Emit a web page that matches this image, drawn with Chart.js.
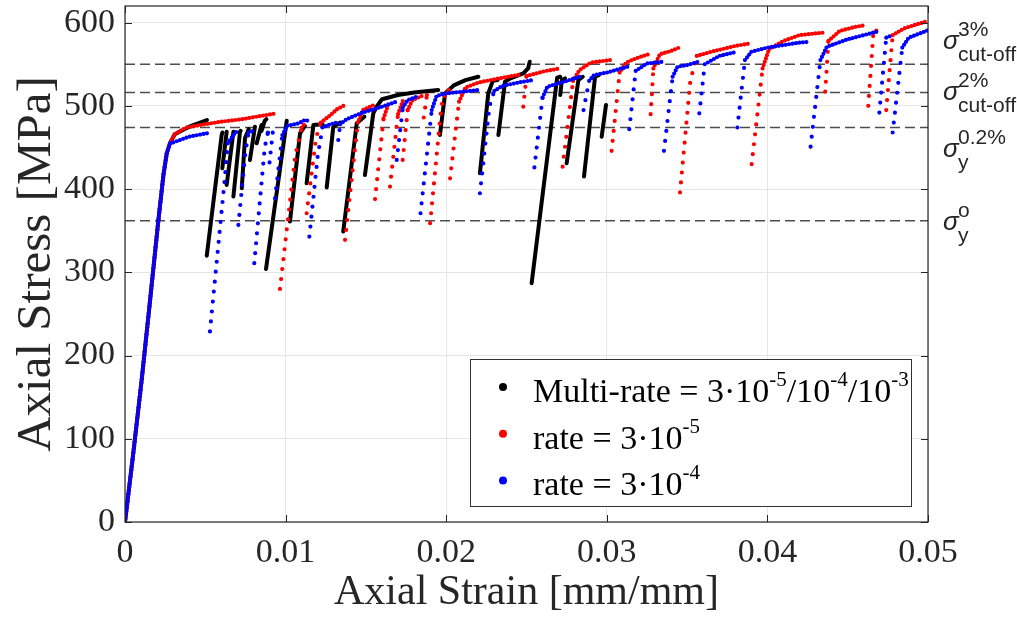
<!DOCTYPE html>
<html>
<head>
<meta charset="utf-8">
<script src="https://cdn.jsdelivr.net/npm/chart.js@4.4.1/dist/chart.umd.min.js"></script>
<style>
  html, body { margin: 0; padding: 0; background: #fff; }
</style>
</head>
<body>
<canvas id="stress-strain" width="1017" height="621"></canvas>
<script>
// Axial stress-strain response under three strain-rate histories.
// Paths are [strain, stress] pairs in loading order; a null marks a hold
// where the stress drops with no recorded points, followed by the elastic reload.

const strainTicks      = [0, 0.01, 0.02, 0.03, 0.04, 0.05];
const strainTickLabels = ['0', '0.01', '0.02', '0.03', '0.04', '0.05'];
const stressTicks      = [0, 100, 200, 300, 400, 500, 600];

// shared elastic loading
const elasticRamp = [
  [0, 0], [0.0005, 80], [0.00104, 171], [0.0015, 255], [0.00207, 361],
  [0.0024, 418], [0.0026, 443], [0.0028, 455]
];

const multiRatePath = [
  ...elasticRamp,
  [0.0031, 466], [0.004, 475], [0.0051, 483], null,
  [0.00509, 320], [0.00602, 465], [0.00606, 468], null,
  [0.00606, 425], [0.00633, 469], null,
  [0.00633, 405], [0.00675, 469], null,
  [0.00675, 391], [0.00716, 469], [0.0072, 470], null,
  [0.00727, 401], [0.00747, 461], [0.0077, 472], null,
  [0.00778, 435], [0.00809, 475], null,
  [0.0082, 455], [0.0085, 477], null,
  [0.0085, 470], [0.0087, 482], [0.0088, 484], null,
  [0.00878, 304], [0.01007, 482], null,
  [0.01027, 361], [0.0109, 467], [0.0112, 476], null,
  [0.01131, 407], [0.01173, 477], [0.0123, 478], null,
  [0.01256, 402], [0.01297, 475], [0.0134, 480], null,
  [0.01359, 349], [0.01443, 479], [0.0149, 487], null,
  [0.01494, 417], [0.01546, 491], [0.0157, 500], [0.016, 508], [0.017, 513],
  [0.018, 516], [0.0195, 519], null,
  [0.01961, 465], [0.01993, 515], [0.0205, 525], [0.0212, 531], [0.022, 535], null,
  [0.0221, 419], [0.02262, 515], [0.0229, 530], [0.0232, 531], null,
  [0.02325, 465], [0.02366, 529], [0.024, 533], [0.0248, 539], [0.0251, 545],
  [0.0252, 553], null,
  [0.02532, 287], [0.02691, 534], [0.0271, 535], null,
  [0.0271, 513], [0.0272, 531], [0.0274, 533], null,
  [0.0275, 431], [0.02823, 531], [0.0285, 535], null,
  [0.02858, 415], [0.02927, 535], [0.0295, 537], null,
  [0.02968, 463], [0.02995, 501]
];

const rate3e5Path = [
  ...elasticRamp,
  [0.0031, 466], [0.0038, 474], [0.005, 478], [0.006, 481], [0.0073, 484],
  [0.0085, 488], [0.0091, 490], [0.0094, 491], null,
  [0.00965, 280], [0.0106, 440], [0.011, 474], [0.0112, 479], null,
  [0.01131, 371], [0.0119, 462], [0.0122, 480], [0.0128, 489], [0.0132, 496],
  [0.0136, 500], null,
  [0.0137, 339], [0.0145, 480], [0.0148, 495], [0.0155, 501], null,
  [0.01557, 388], [0.0161, 485], [0.0164, 502], null,
  [0.0165, 403], [0.017, 490], [0.0173, 506], null,
  [0.01729, 435], [0.0176, 495], [0.0179, 507], [0.0185, 512], null,
  [0.0186, 486], [0.0188, 513], [0.0189, 516], null,
  [0.019, 359], [0.0197, 500], [0.0199, 512], [0.0202, 520], null,
  [0.02024, 413], [0.0208, 505], [0.0212, 522], [0.022, 528], [0.0233, 533],
  [0.0247, 538], null,
  [0.0248, 499], [0.025, 536], [0.0262, 542], [0.0271, 545], null,
  [0.02725, 427], [0.0279, 530], [0.0283, 543], [0.029, 552], [0.0302, 555], null,
  [0.0303, 446], [0.0308, 540], [0.0312, 552], [0.0318, 557], [0.0326, 562], null,
  [0.03273, 490], [0.0329, 545], [0.0333, 562], [0.034, 566], [0.0345, 570], null,
  [0.03456, 396], [0.0352, 530], [0.0356, 560], [0.0365, 565], [0.038, 572],
  [0.0389, 575], null,
  [0.03902, 430], [0.0397, 545], [0.0401, 568], [0.041, 578], [0.042, 585],
  [0.0435, 588], null,
  [0.0436, 517], [0.0438, 578], [0.0445, 590], [0.0455, 595], [0.0461, 597], null,
  [0.04628, 500], [0.0466, 588], [0.0469, 592], null,
  [0.0474, 495], [0.0478, 585], [0.0485, 593], [0.0493, 598], [0.05, 602]
];

const rate3e4Path = [
  ...elasticRamp,
  [0.003, 456], [0.004, 463], [0.0051, 467], [0.0052, 468], null,
  [0.00529, 229], [0.0062, 410], [0.0064, 455], [0.0068, 466], [0.007, 470], null,
  [0.00706, 357], [0.0075, 445], [0.0077, 468], [0.008, 470], null,
  [0.00805, 311], [0.0087, 450], [0.0089, 468], [0.009, 470], null,
  [0.009, 432], [0.0092, 468], [0.0093, 474], null,
  [0.00934, 389], [0.0098, 465], [0.0101, 476], [0.0108, 479], [0.0112, 483],
  [0.0114, 482], null,
  [0.01148, 343], [0.012, 440], [0.0123, 474], [0.0128, 478], [0.0132, 480], null,
  [0.01328, 459], [0.0134, 478], [0.0138, 484], [0.0148, 492], [0.016, 499],
  [0.0169, 505], null,
  [0.01692, 435], [0.0173, 498], [0.0176, 507], [0.0183, 512], null,
  [0.0184, 371], [0.0191, 495], [0.0194, 512], [0.02, 515], [0.0215, 518],
  [0.022, 519], null,
  [0.0221, 395], [0.0227, 500], [0.023, 518], [0.0235, 524], [0.0245, 528],
  [0.0254, 531], null,
  [0.02549, 426], [0.026, 510], [0.0263, 523], [0.0275, 530], [0.0285, 536], null,
  [0.02855, 495], [0.0289, 530], [0.0292, 537], [0.03, 540], [0.0313, 547], null,
  [0.0314, 472], [0.0318, 542], [0.0325, 551], [0.0335, 553], null,
  [0.03356, 446], [0.0341, 535], [0.0344, 547], [0.035, 549], [0.0357, 553], null,
  [0.03576, 491], [0.0361, 550], [0.037, 560], [0.0381, 565], null,
  [0.03813, 474], [0.0386, 555], [0.039, 565], [0.04, 570], [0.042, 576],
  [0.0426, 577], null,
  [0.04269, 451], [0.0433, 555], [0.0437, 571], [0.045, 580], [0.0468, 589], null,
  [0.04697, 492], [0.0474, 582], [0.0478, 585], null,
  [0.0478, 468], [0.0484, 570], [0.0488, 582], [0.0495, 587], [0.05, 591]
];

// dashed reference stresses: 3% and 2% cut-off, 0.2% offset yield, onset of yield
const refLevels = [550, 516, 474, 362];
const refLabels = [
  { sup: '3%',   sub: 'cut-off' },
  { sup: '2%',   sub: 'cut-off' },
  { sup: '0.2%', sub: 'y' },
  { sup: 'o',    sub: 'y' }
];

// legend text runs: [text, isSuperscript]
const legendEntries = [
  [['Multi-rate = 3·10'], ['-5', 1], ['/10'], ['-4', 1], ['/10'], ['-3', 1]],
  [['rate = 3·10'], ['-5', 1]],
  [['rate = 3·10'], ['-4', 1]]
];

const COLORS  = ['#000000', '#ff0000', '#0000ff'];
const AXIS    = '#262626';
const SERIF   = '"Liberation Serif", "Times New Roman", serif';
const SANS    = '"Liberation Sans", Arial, sans-serif';

// ── helpers ────────────────────────────────────────────────────────────────
function toPoints(path) {
  let lastX = 0;
  return path.map(p => {
    if (!p) return { x: lastX, y: null };
    lastX = p[0];
    return { x: p[0], y: p[1] };
  });
}

// steep pieces past the first loading are reload branches: sparse dots there
function isReload(c) {
  if (c.p0DataIndex < elasticRamp.length) return false;
  const dx = Math.abs(c.p1.x - c.p0.x) || 0.01;
  return Math.abs(c.p1.y - c.p0.y) / dx > 3;
}

function dottedSeries(path, color, order) {
  return {
    data: toPoints(path),
    showLine: true, pointRadius: 0, tension: 0, spanGaps: false,
    borderColor: color, borderWidth: 4.2,
    borderCapStyle: 'round', borderJoinStyle: 'round',
    borderDash: [0, 3.5],
    segment: { borderDash: c => isReload(c) ? [0, 10] : [0, 3.5] },
    order
  };
}

function solidSeries(path, color, order) {
  return {
    data: toPoints(path),
    showLine: true, pointRadius: 0, tension: 0, spanGaps: false,
    borderColor: color, borderWidth: 4,
    borderCapStyle: 'round', borderJoinStyle: 'round',
    order
  };
}

function refSeries(v) {
  return {
    data: [{ x: 0, y: v }, { x: 0.05, y: v }],
    showLine: true, pointRadius: 0,
    borderColor: '#4d4d4d', borderWidth: 1.4, borderDash: [10, 5],
    order: 5
  };
}

function drawRuns(ctx, x, y, runs, size, supSize, rise) {
  runs.forEach(([text, sup]) => {
    ctx.font = `${sup ? supSize : size}px ${SERIF}`;
    ctx.fillText(text, x, sup ? y - rise : y);
    x += ctx.measureText(text).width;
  });
}

// ── frame, inward ticks, legend and reference labels ──────────────────────
const decorations = {
  id: 'decorations',
  afterDraw(chart) {
    const { ctx, chartArea: a, scales: { x, y } } = chart;
    ctx.save();

    ctx.strokeStyle = AXIS;
    ctx.lineWidth = 1.2;
    ctx.strokeRect(a.left, a.top, a.right - a.left, a.bottom - a.top);

    ctx.lineWidth = 1;
    ctx.beginPath();
    strainTicks.forEach(v => {
      const px = Math.round(x.getPixelForValue(v)) + 0.5;
      ctx.moveTo(px, a.bottom); ctx.lineTo(px, a.bottom - 7);
      ctx.moveTo(px, a.top);    ctx.lineTo(px, a.top + 7);
    });
    stressTicks.forEach(v => {
      const py = Math.round(y.getPixelForValue(v)) + 0.5;
      ctx.moveTo(a.left, py);  ctx.lineTo(a.left + 7, py);
      ctx.moveTo(a.right, py); ctx.lineTo(a.right - 7, py);
    });
    ctx.stroke();

    // legend
    const lx = a.right - 458, ly = a.bottom - 163, lw = 441, lh = 147;
    ctx.fillStyle = '#ffffff';
    ctx.fillRect(lx, ly, lw, lh);
    ctx.strokeStyle = '#333333';
    ctx.strokeRect(lx + 0.5, ly + 0.5, lw, lh);
    ctx.textBaseline = 'alphabetic';
    ctx.textAlign = 'left';
    legendEntries.forEach((runs, i) => {
      const base = ly + 43 + i * 46.7;
      ctx.fillStyle = COLORS[i];
      ctx.beginPath();
      ctx.arc(lx + 33, base - 15, 4, 0, Math.PI * 2);
      ctx.fill();
      ctx.fillStyle = '#000000';
      drawRuns(ctx, lx + 63, base, runs, 34, 21, 16);
    });

    // sigma labels beside the dashed levels
    const offsets = [-15, 7, 29, 9];
    refLevels.forEach((v, i) => {
      const base = y.getPixelForValue(v) + offsets[i];
      const sx = a.right + 15;
      ctx.fillStyle = AXIS;
      ctx.font = `italic 26px ${SANS}`;
      ctx.fillText('σ', sx, base);
      ctx.font = `21px ${SANS}`;
      ctx.fillText(refLabels[i].sup, sx + 15, base - 13);
      ctx.fillText(refLabels[i].sub, sx + 15, base + 12);
    });

    ctx.restore();
  }
};

const datasets = [
  dottedSeries(rate3e4Path, COLORS[2], 1),
  dottedSeries(rate3e5Path, COLORS[1], 2),
  solidSeries(multiRatePath, COLORS[0], 3),
  ...refLevels.map(refSeries)
];

new Chart(document.getElementById('stress-strain'), {
  type: 'scatter',
  data: { datasets },
  plugins: [decorations],
  options: {
    responsive: false,
    animation: false,
    events: [],
    layout: { padding: { top: 6, right: 89, left: 0, bottom: 0 } },
    plugins: { legend: { display: false }, tooltip: { enabled: false } },
    scales: {
      x: {
        type: 'linear', min: 0, max: 0.05,
        afterFit: s => { s.height = 99; s.paddingLeft = 0; s.paddingRight = 0; },
        afterBuildTicks: s => { s.ticks = strainTicks.map(v => ({ value: v })); },
        ticks: {
          callback: (v, i) => strainTickLabels[i],
          font: { family: SERIF, size: 34 }, color: AXIS,
          padding: 11, maxRotation: 0, autoSkip: false
        },
        grid: { color: '#e6e6e6', drawTicks: false },
        border: { display: false },
        title: {
          display: true, text: 'Axial Strain [mm/mm]', color: AXIS,
          font: { family: SERIF, size: 42 }, padding: { top: 0, bottom: 3 }
        }
      },
      y: {
        type: 'linear', min: 0, max: 620,
        afterFit: s => { s.width = 125; s.paddingTop = 0; s.paddingBottom = 0; },
        afterBuildTicks: s => { s.ticks = stressTicks.map(v => ({ value: v })); },
        ticks: {
          callback: v => String(v),
          font: { family: SERIF, size: 34 }, color: AXIS,
          padding: 10
        },
        grid: { color: '#e6e6e6', drawTicks: false },
        border: { display: false },
        title: {
          display: true, text: 'Axial Stress [MPa]', color: AXIS,
          font: { family: SERIF, size: 49 }, padding: { top: 8, bottom: 0 }
        }
      }
    }
  }
});
</script>
</body>
</html>
